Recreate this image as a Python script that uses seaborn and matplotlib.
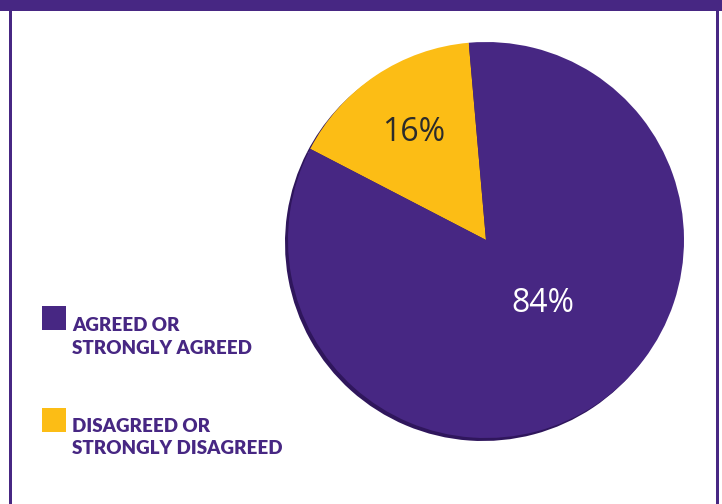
import matplotlib
matplotlib.use("Agg")
import matplotlib.pyplot as plt
import seaborn as sns
import numpy as np
from matplotlib.patches import Rectangle

categories = ["DISAGREED OR\nSTRONGLY DISAGREED", "AGREED OR\nSTRONGLY AGREED"]
values = [16, 84]
labels_pct = ["16%", "84%"]

PURPLE = "#472783"
YELLOW = "#FCBD15"
SHADOW = "#2f165c"
colors = sns.color_palette([YELLOW, PURPLE])

sns.set_theme(style="white")
plt.rcParams['font.family'] = ['Lato', 'DejaVu Sans']

W, H = 722, 504
fig = plt.figure(figsize=(7.22, 5.04), dpi=100)
ax = fig.add_axes([0, 0, 1, 1])

# frame
ax.add_patch(Rectangle((0, H - 11), W, 11, color=PURPLE, lw=0))
ax.add_patch(Rectangle((9, 0), 3, H, color=PURPLE, lw=0))
ax.add_patch(Rectangle((716, 0), 3, H, color=PURPLE, lw=0))

cx, cy, r = 486, 264, 198
start = 95

# shadow
ax.pie(values, colors=[SHADOW, SHADOW], startangle=start, radius=r,
       center=(cx - 3, cy - 3), frame=True,
       wedgeprops=dict(linewidth=0))
wedges, _ = ax.pie(values, colors=colors, startangle=start, radius=r,
                   center=(cx, cy), frame=True,
                   wedgeprops=dict(linewidth=0))
ax.set_xlim(0, W)
ax.set_ylim(0, H)
ax.axis("off")

dists = [0.655, 0.43]
offs = [0, 8]
txtcol = ["#2b2b2b", "white"]
for w, lab, d, o, c in zip(wedges, labels_pct, dists, offs, txtcol):
    mid = (w.theta1 + w.theta2) / 2 + o
    x = cx + d * r * np.cos(np.radians(mid))
    y = cy + d * r * np.sin(np.radians(mid))
    ax.text(x, y, lab, ha="center", va="center", fontsize=23, color=c,
            family=["Open Sans", "DejaVu Sans"])

# legend
leg_items = [(PURPLE, categories[1], 318, (331, 354)),
             (YELLOW, categories[0], 420, (432, 454))]
for col, lab, ypix, bases in leg_items:
    ax.add_patch(Rectangle((42, H - ypix - 12), 24, 24, color=col, lw=0))
    for line, b in zip(lab.split("\n"), bases):
        ax.text(72, H - b, line, ha="left", va="baseline", fontsize=13.5,
                fontweight="heavy", color=PURPLE,
                family=["Lato", "DejaVu Sans"])

fig.savefig("out.png", dpi=100)
